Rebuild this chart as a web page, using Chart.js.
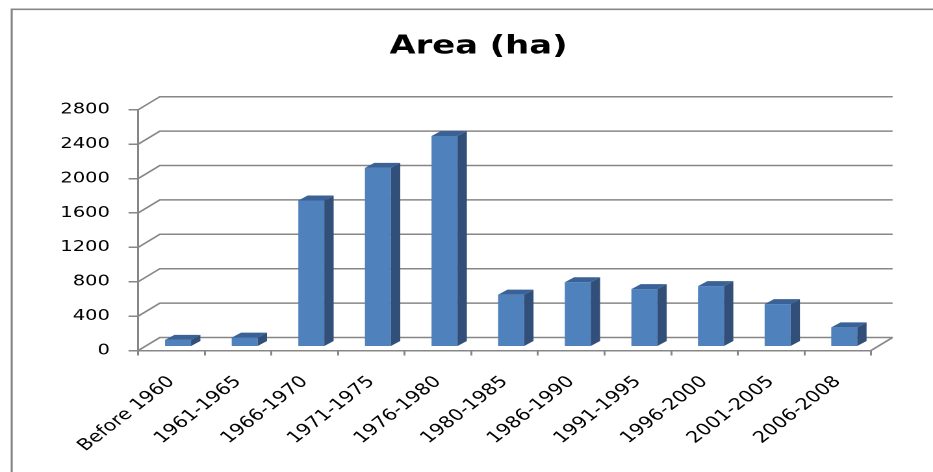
<!DOCTYPE html>
<html>
<head>
<meta charset="utf-8">
<script src="https://cdn.jsdelivr.net/npm/chart.js@4.4.1/dist/chart.umd.min.js"></script>
<style>
html, body { margin: 0; padding: 0; background: #ffffff; overflow: hidden; }
#wrap { position: absolute; left: 0; top: 0; width: 718px; height: 472px; transform: scaleX(1.29944); transform-origin: 0 0; }
</style>
</head>
<body>
<div id="wrap"><canvas id="c"></canvas></div>
<script>
// ---- data ----
const categories = ['Before 1960', '1961-1965', '1966-1970', '1971-1975', '1976-1980', '1980-1985', '1986-1990', '1991-1995', '1996-2000', '2001-2005', '2006-2008'];
const areaValues = [80, 105, 1700, 2080, 2450, 605, 750, 670, 705, 495, 225];
const yTicks = [0, 400, 800, 1200, 1600, 2000, 2400, 2800];
const yTickLabels = ['0', '400', '800', '1200', '1600', '2000', '2400', '2800'];
const titleText = 'Area (ha)';

// ---- styling ----
const FACE = '#4F81BD', SIDE = '#324F79', TOP = '#3A6296';
const LINE = '#868686';
const FONT = 'DejaVu Sans';
const FLOOR_DX = 16.6, FLOOR_DY = 13;     // depth of the 3D floor / walls
const SHIFT_X = 5.0, SHIFT_Y = 3.8;        // bars sit a little behind the front edge
const BAR_DX = 7.2, BAR_DY = 5;            // bar depth

const threeD = {
  id: 'threeD',
  beforeDraw(chart) {
    const { ctx, chartArea: a, scales: { y } } = chart;
    ctx.save();
    ctx.strokeStyle = LINE;
    ctx.lineWidth = 1.6;
    ctx.beginPath();
    ctx.moveTo(9, 480); ctx.lineTo(9, 9.3); ctx.lineTo(730, 9.3);
    ctx.stroke();
    ctx.lineWidth = 1.5;
    y.ticks.forEach(t => {
      const py = y.getPixelForValue(t.value);
      ctx.beginPath();
      ctx.moveTo(a.left, py);
      ctx.lineTo(a.left + FLOOR_DX, py - FLOOR_DY);
      ctx.lineTo(a.right + FLOOR_DX, py - FLOOR_DY);
      ctx.stroke();
    });
    const p0 = y.getPixelForValue(0);
    ctx.beginPath();
    ctx.moveTo(a.right, p0);
    ctx.lineTo(a.right + FLOOR_DX, p0 - FLOOR_DY);
    ctx.stroke();
    ctx.restore();
  },
  beforeDatasetsDraw(chart) {
    chart.ctx.save();
    chart.ctx.translate(SHIFT_X, -SHIFT_Y);
  },
  afterDatasetsDraw(chart) {
    const ctx = chart.ctx;
    chart.getDatasetMeta(0).data.forEach(bar => {
      const { x, y, base, width } = bar.getProps(['x', 'y', 'base', 'width'], true);
      const l = x - width / 2, r = x + width / 2;
      ctx.fillStyle = SIDE;
      ctx.beginPath();
      ctx.moveTo(r, y); ctx.lineTo(r + BAR_DX, y - BAR_DY);
      ctx.lineTo(r + BAR_DX, base - BAR_DY); ctx.lineTo(r, base);
      ctx.closePath(); ctx.fill();
      ctx.fillStyle = TOP;
      ctx.beginPath();
      ctx.moveTo(l, y); ctx.lineTo(l + BAR_DX, y - BAR_DY);
      ctx.lineTo(r + BAR_DX, y - BAR_DY); ctx.lineTo(r, y);
      ctx.closePath(); ctx.fill();
    });
    ctx.restore();
  }
};

new Chart(document.getElementById('c'), {
  type: 'bar',
  data: {
    labels: categories,
    datasets: [{
      data: areaValues,
      backgroundColor: FACE,
      borderWidth: 0,
      barPercentage: 0.39,
      categoryPercentage: 1.0,
      clip: false,
      yAxisID: 'y'
    }]
  },
  options: {
    responsive: true,
    maintainAspectRatio: false,
    animation: false,
    devicePixelRatio: 2,
    layout: { padding: { left: 44, right: 25.6, top: 0, bottom: 21.5 } },
    plugins: {
      legend: { display: false },
      tooltip: { enabled: false },
      title: {
        display: true,
        text: titleText,
        color: '#000000',
        font: { family: FONT, size: 26, weight: 'bold' },
        padding: { top: 31, bottom: 47.5 }
      }
    },
    scales: {
      x: {
        offset: true,
        grid: { display: true, drawOnChartArea: false, drawTicks: true, tickLength: 5, color: LINE, lineWidth: 1.5, offset: true },
        border: { display: true, color: LINE, width: 1.5 },
        ticks: { autoSkip: false, maxRotation: 45, minRotation: 45, color: '#000000', font: { family: FONT, size: 16 }, padding: 17 },
        afterFit: s => { s.height = 100; }
      },
      y: {
        min: 0,
        max: 2800,
        afterBuildTicks: s => { s.ticks = yTicks.map(v => ({ value: v })); },
        grid: { display: true, drawOnChartArea: false, drawTicks: true, tickLength: 7.5, color: LINE, lineWidth: 1.5 },
        border: { display: true, color: LINE, width: 1.5 },
        ticks: {
          color: '#000000',
          font: { family: FONT, size: 15 },
          padding: 14.3,
          callback: v => yTickLabels[yTicks.indexOf(v)] ?? String(v)
        },
        afterFit: s => { s.width = 62.4; }
      },
      yRight: {
        position: 'right',
        display: true,
        grid: { display: false },
        border: { display: false },
        ticks: { display: false },
        afterFit: s => { s.width = 22.1; }
      }
    }
  },
  plugins: [threeD]
});
</script>
</body>
</html>
